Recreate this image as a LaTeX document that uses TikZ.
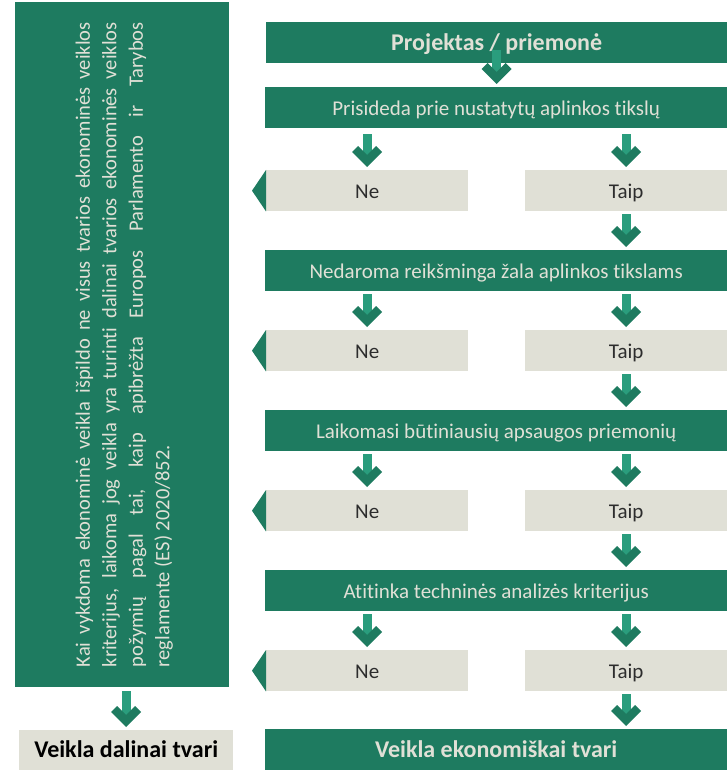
\documentclass[tikz,border=0pt]{standalone}
\usepackage{fontspec}
\setmainfont[Ligatures={NoCommon}]{Carlito}
\usetikzlibrary{calc}

\definecolor{darkgreen}{HTML}{1E7B60}
\definecolor{stemgreen}{HTML}{2A9D7D}
\definecolor{palegray}{HTML}{E0E0D6}
\definecolor{darktext}{HTML}{2D2D2D}

\tikzset{
  box/.style={rectangle,inner sep=0pt,anchor=north west,minimum height=41pt,
    text height=15.5pt,text depth=0pt,font=\fontsize{21}{25}\selectfont},
  greenbox/.style={box,fill=darkgreen,text=palegray},
  greybox/.style={box,fill=palegray,text=darktext},
  titlebox/.style={greenbox,font=\fontsize{24}{28}\selectfont\bfseries},
}

% stem + chevron from one node down to the next, in the column of #4
\newcommand{\flowarrow}[4][5]{%
  \fill[stemgreen] ($(#2.south -| #4.center)+(-4.5,#1)$) rectangle ($(#3.north -| #4.center)+(4.5,-14)$);
  \fill[darkgreen] ($(#3.north -| #4.center)+(0,-3)$) -- ++(15,-15) -- ++(-6,-6) -- ++(-9,9)
    -- ++(-9,-9) -- ++(-6,6) -- cycle;
}
% green wedge on the left of a "Ne" box
\newcommand{\nowedge}[1]{%
  \fill[darkgreen] (#1.north west) -- (#1.south west) -- ($(#1.west)+(-14,0)$) -- cycle;
}

\begin{document}
\begin{tikzpicture}[x=1pt,y=-1pt]
\useasboundingbox (0,0) rectangle (727,770);

% left column
\node[rectangle,fill=darkgreen,inner sep=0pt,anchor=north west,
  minimum width=214pt,minimum height=685pt] (panel) at (15,2) {};
\node[rotate=90,text width=645pt,align=justify,text=palegray,inner sep=0pt,
  font=\fontsize{20.5}{26.5}\selectfont] (note) at ($(panel.center)+(2,0)$)
  {Kai vykdoma ekonominė veikla išpildo ne visus tvarios ekonominės veiklos\linebreak
   kriterijus, laikoma jog veikla yra turinti dalinai tvarios ekonominės veiklos\linebreak
   požymių pagal tai, kaip apibrėžta Europos Parlamento ir Tarybos\linebreak
   reglamente (ES) 2020/852.};
\node[greybox,text=black,font=\fontsize{24}{28}\selectfont\bfseries,
  minimum width=214pt,minimum height=40pt] (partial) at (19,730) {Veikla dalinai tvari};

% right column
\node[titlebox,minimum width=461pt] (title) at (266,22) {Projektas / priemonė};

\node[greenbox,minimum width=462pt] (q1) at (265,87) {Prisideda prie nustatytų aplinkos tikslų};
\node[greybox,minimum width=202pt] (ne1) at (266,170) {Ne};
\node[greybox,minimum width=202pt] (taip1) at (525,170) {Taip};

\node[greenbox,minimum width=462pt] (q2) at (265,250) {Nedaroma reikšminga žala aplinkos tikslams};
\node[greybox,minimum width=202pt] (ne2) at (266,330) {Ne};
\node[greybox,minimum width=202pt] (taip2) at (525,330) {Taip};

\node[greenbox,minimum width=462pt] (q3) at (265,410) {Laikomasi būtiniausių apsaugos priemonių};
\node[greybox,minimum width=202pt] (ne3) at (266,490) {Ne};
\node[greybox,minimum width=202pt] (taip3) at (525,490) {Taip};

\node[greenbox,minimum width=462pt] (q4) at (265,570) {Atitinka techninės analizės kriterijus};
\node[greybox,minimum width=202pt] (ne4) at (266,650) {Ne};
\node[greybox,minimum width=202pt] (taip4) at (525,650) {Taip};

\node[titlebox,minimum width=462pt] (final) at (265,729) {Veikla ekonomiškai tvari};

\nowedge{ne1}
\nowedge{ne2}
\nowedge{ne3}
\nowedge{ne4}

\flowarrow[-13]{title}{q1}{title}
\flowarrow[6]{q1}{ne1}{ne1}
\flowarrow[6]{q1}{taip1}{taip1}
\flowarrow[3]{taip1}{q2}{taip1}
\flowarrow[3]{q2}{ne2}{ne2}
\flowarrow[3]{q2}{taip2}{taip2}
\flowarrow[3]{taip2}{q3}{taip2}
\flowarrow[3]{q3}{ne3}{ne3}
\flowarrow[3]{q3}{taip3}{taip3}
\flowarrow[3]{taip3}{q4}{taip3}
\flowarrow[3]{q4}{ne4}{ne4}
\flowarrow[3]{q4}{taip4}{taip4}
\flowarrow[3]{taip4}{final}{taip4}
\flowarrow[4]{panel}{partial}{partial}
\end{tikzpicture}
\end{document}
